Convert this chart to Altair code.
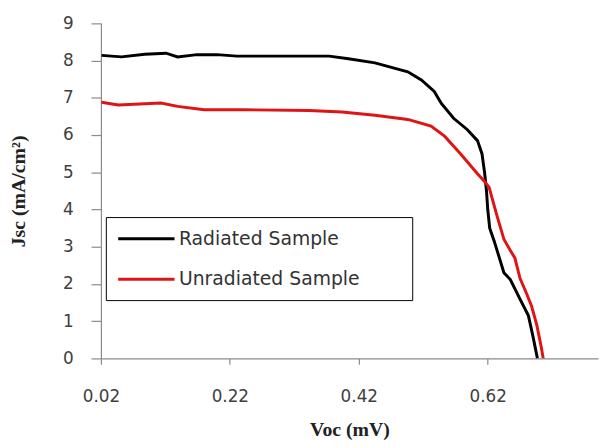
import altair as alt
import pandas as pd

series_names = ["Radiated Sample", "Unradiated Sample"]

rad_voc = [0.021, 0.052, 0.088, 0.121, 0.139, 0.169, 0.200, 0.231, 0.292, 0.374,
           0.404, 0.445, 0.496, 0.517, 0.537, 0.548, 0.567, 0.588, 0.604, 0.611,
           0.615, 0.618, 0.620, 0.623, 0.630, 0.638, 0.645, 0.655, 0.670, 0.683,
           0.690, 0.697]
rad_jsc = [8.14, 8.10, 8.17, 8.20, 8.10, 8.16, 8.16, 8.12, 8.12, 8.12,
           8.05, 7.94, 7.70, 7.48, 7.17, 6.85, 6.45, 6.15, 5.85, 5.50,
           5.00, 4.50, 4.00, 3.50, 3.15, 2.70, 2.30, 2.12, 1.59, 1.15,
           0.60, 0.00]

unrad_voc = [0.021, 0.047, 0.113, 0.139, 0.180, 0.241, 0.343, 0.394, 0.445, 0.496,
             0.532, 0.553, 0.578, 0.604, 0.615, 0.622, 0.634, 0.645, 0.655, 0.662,
             0.670, 0.680, 0.688, 0.696, 0.703, 0.706]
unrad_jsc = [6.88, 6.81, 6.86, 6.77, 6.68, 6.68, 6.66, 6.62, 6.53, 6.42,
             6.24, 5.97, 5.49, 4.96, 4.75, 4.60, 3.85, 3.20, 2.90, 2.70,
             2.15, 1.75, 1.40, 0.90, 0.30, 0.00]

x_ticks = [0.02, 0.22, 0.42, 0.62]
y_ticks = [0, 1, 2, 3, 4, 5, 6, 7, 8, 9]

rows = []
for v, j in zip(rad_voc, rad_jsc):
    rows.append({"Voc": v, "Jsc": j, "Series": series_names[0], "idx": len(rows)})
for v, j in zip(unrad_voc, unrad_jsc):
    rows.append({"Voc": v, "Jsc": j, "Series": series_names[1], "idx": len(rows)})
df = pd.DataFrame(rows)

pad = "\u2800" * 3

chart = alt.Chart(df).mark_line(strokeWidth=3, clip=True).encode(
    x=alt.X("Voc:Q",
            scale=alt.Scale(domain=[0.02, 0.791], nice=False, zero=False),
            axis=alt.Axis(title="Voc (mV)", values=x_ticks, format=".2f",
                          grid=False, tickSize=6, labelPadding=25, labelFlush=False,
                          titlePadding=15)),
    y=alt.Y("Jsc:Q",
            scale=alt.Scale(domain=[0, 9], nice=False),
            axis=alt.Axis(title="Jsc (mA/cm²)", values=y_ticks, format="d",
                          grid=False, tickSize=10, labelPadding=18, labelFlush=False,
                          titlePadding=34)),
    color=alt.Color("Series:N",
                    scale=alt.Scale(domain=series_names, range=["#000000", "#e01414"]),
                    legend=alt.Legend(title=None, orient="none", legendX=5, legendY=196,
                                      symbolType="M-1,0H5", symbolSize=361,
                                      symbolStrokeWidth=3, labelFontSize=19,
                                      labelFont="DejaVu Sans", labelColor="#333333",
                                      labelOffset=41, rowPadding=20, padding=11,
                                      labelLimit=500,
                                      strokeColor="#000000", fillColor="#ffffff",
                                      labelExpr=f"datum.label + '{pad}'")),
    order="idx:Q",
).properties(
    width=503, height=339,
    autosize=alt.AutoSizeParams(type="none"),
    padding={"left": 94, "top": 13, "right": 2, "bottom": 80},
).configure_view(stroke=None).configure_axis(
    domainColor="#8a8a8a", tickColor="#8a8a8a", domainWidth=1.2, tickWidth=1.2,
    labelFont="DejaVu Sans", labelFontSize=17, labelColor="#404040",
    titleFont="Liberation Serif", titleFontSize=20, titleFontWeight="bold",
    titleColor="#222222",
)

chart.save("out.html", embed_options={"renderer": "svg", "actions": False})
